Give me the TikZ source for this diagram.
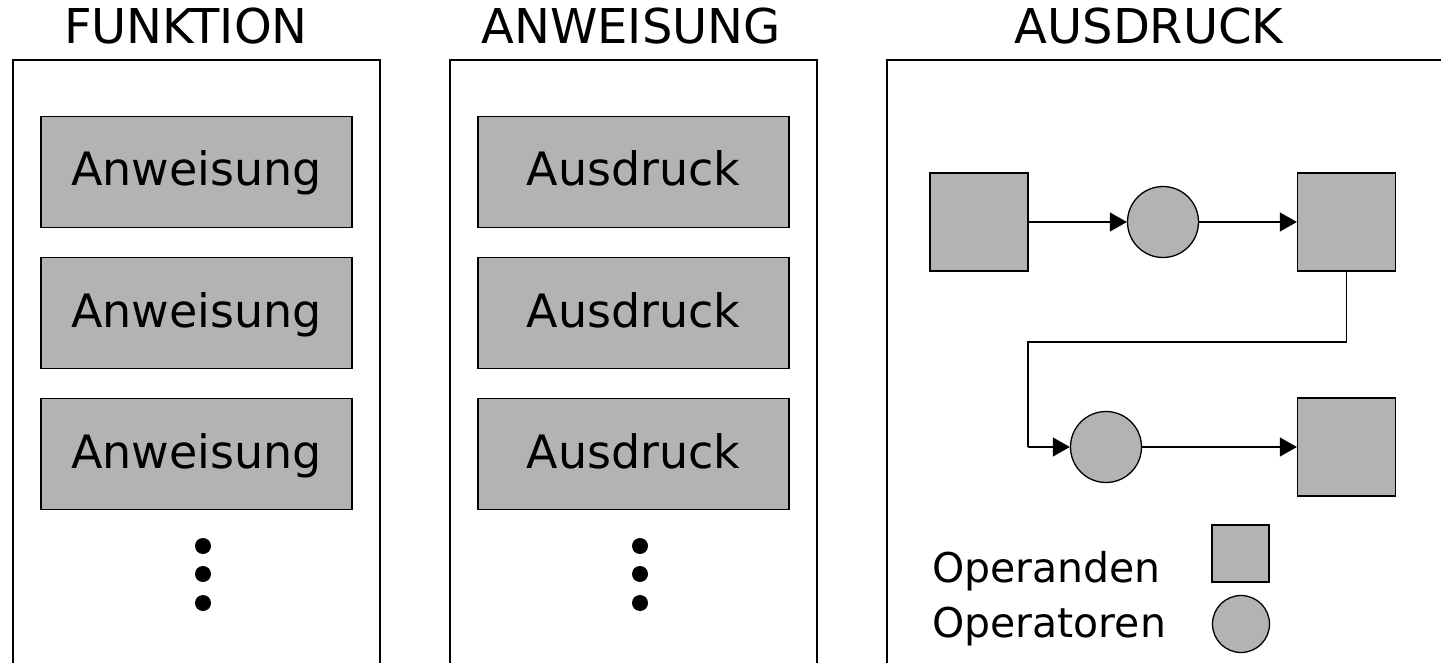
\documentclass[tikz,border=0pt]{standalone}
\usepackage{fontspec}
\setmainfont{DejaVu Sans}
\usetikzlibrary{arrows.meta}
\definecolor{boxgray}{RGB}{179,179,179}
\tikzset{
  frame/.style={draw=black, line width=1.6pt},
  title/.style={font=\fontsize{48}{52}\selectfont, anchor=base, inner sep=0pt},
  stmtbox/.style={draw=black, fill=boxgray, line width=1.3pt, minimum width=311pt, minimum height=111pt,
    font=\fontsize{46}{50}\selectfont, text height=33pt, text depth=5pt, inner sep=0pt},
  operand/.style={draw=black, fill=boxgray, line width=1.3pt, minimum size=98pt, inner sep=0pt},
  operator/.style={draw=black, fill=boxgray, line width=1.3pt, circle, minimum size=71pt, inner sep=0pt},
  dotnode/.style={fill=black, circle, minimum size=16pt, inner sep=0pt},
  conn/.style={line width=1.3pt, -{Triangle[length=17pt,width=19pt]}},
  legend/.style={font=\fontsize{41}{46}\selectfont, anchor=base west, inner sep=0pt}
}
\begin{document}
\begin{tikzpicture}[x=1pt,y=-1pt]
\useasboundingbox (0,0) rectangle (1441,663);
\clip (0,0) rectangle (1441,663);
% frames
\draw[frame] (13,700) -- (13,60) -- (380,60) -- (380,700);
\draw[frame] (450,700) -- (450,60) -- (817,60) -- (817,700);
\draw[frame] (887,700) -- (887,60) -- (1460,60);
% titles
\node[title] (t1) at (186,44) {FUNKTION};
\node[title] (t2) at (631,44) {ANWEISUNG};
\node[title] (t3) at (1149,44) {AUSDRUCK};
% FUNKTION boxes
\node[stmtbox] (f1) at (196.5,172) {Anweisung};
\node[stmtbox] (f2) at (196.5,313) {Anweisung};
\node[stmtbox] (f3) at (196.5,454) {Anweisung};
\node[dotnode] (fd1) at (203,546) {};
\node[dotnode] (fd2) at (203,574) {};
\node[dotnode] (fd3) at (203,603) {};
% ANWEISUNG boxes
\node[stmtbox] (a1) at (633.5,172) {Ausdruck};
\node[stmtbox] (a2) at (633.5,313) {Ausdruck};
\node[stmtbox] (a3) at (633.5,454) {Ausdruck};
\node[dotnode] (ad1) at (640,546) {};
\node[dotnode] (ad2) at (640,574) {};
\node[dotnode] (ad3) at (640,603) {};
% AUSDRUCK graph
\node[operand] (s1) at (979,222) {};
\node[operator] (c1) at (1163,222) {};
\node[operand] (s2) at (1346.5,222) {};
\node[operator] (c2) at (1106,447) {};
\node[operand] (s3) at (1346.5,447) {};
\coordinate (k1) at (1346.5,342);
\coordinate (k2) at (1028,342);
\coordinate (k3) at (1028,447);
\draw[conn] (s1) -- (c1);
\draw[conn] (c1) -- (s2);
\draw[line width=1.3pt] (s2.south) -- (k1) -- (k2) -- (k3);
\draw[conn] (k3) -- (c2);
\draw[conn] (c2) -- (s3);
% legend
\node[legend] (l1) at (932,582) {Operanden};
\node[legend] (l2) at (932,637) {Operatoren};
\node[draw=black, fill=boxgray, line width=1.3pt, minimum size=57pt, inner sep=0pt] (ls) at (1240.5,553.5) {};
\node[draw=black, fill=boxgray, line width=1.3pt, circle, minimum size=57pt, inner sep=0pt] (lc) at (1241,624) {};
\end{tikzpicture}
\end{document}
